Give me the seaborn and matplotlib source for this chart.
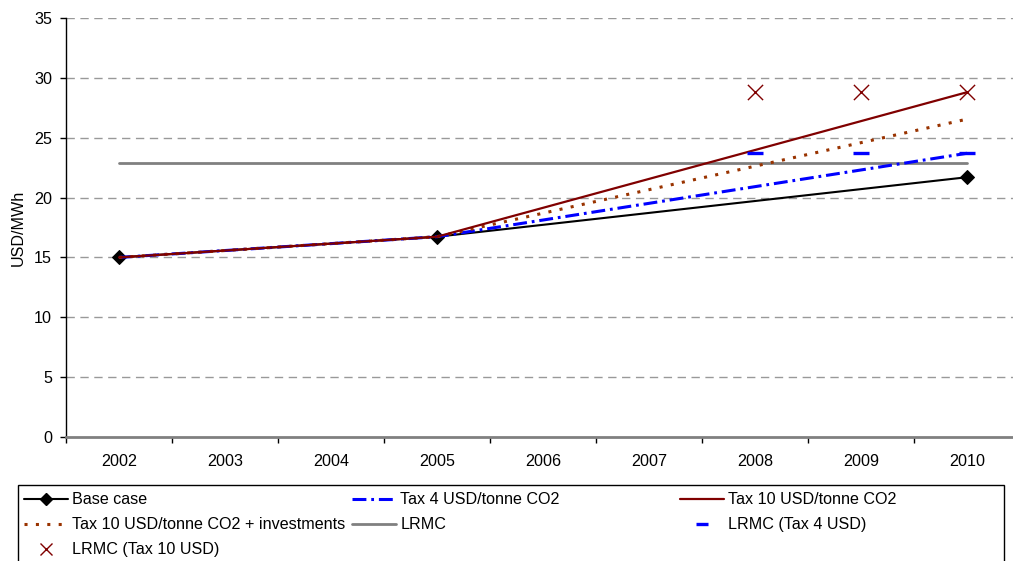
import numpy as np
import pandas as pd
import matplotlib
matplotlib.use("Agg")
import matplotlib.pyplot as plt
from matplotlib.ticker import FixedLocator, NullFormatter, FixedFormatter
from matplotlib.lines import Line2D
from matplotlib.patches import Rectangle
import seaborn as sns

years = ["2002", "2003", "2004", "2005", "2006", "2007", "2008", "2009", "2010"]

# scenario values (USD/MWh) at the years where the series are defined
base_years = ["2002", "2005", "2010"]
base_case = [15.0, 16.73, 21.7]

tax_years = ["2002", "2005", "2010"]
tax4 = [15.0, 16.73, 23.7]
tax10 = [15.0, 16.73, 28.8]
tax10_inv = [15.0, 16.73, 26.55]

lrmc_years = ["2002", "2010"]
lrmc = [22.92, 22.92]

lrmc_tax_years = ["2008", "2009", "2010"]
lrmc_tax4 = [23.7, 23.7, 23.7]
lrmc_tax10 = [28.8, 28.8, 28.8]

sns.set_theme(style="white")
plt.rcParams["font.family"] = ["Liberation Sans", "DejaVu Sans"]
plt.rcParams["lines.scale_dashes"] = False

FS = 11.6
W, H = 1013, 561
pos = {y: i for i, y in enumerate(years)}

DASHDOT = (0, (10, 3.5, 2, 3.5))
DOTTED = (0, (2.2, 6))


def frame(yrs, vals):
    return pd.DataFrame({"x": [pos[y] for y in yrs], "v": vals})


fig = plt.figure(figsize=(W / 100, H / 100), dpi=100)
ax = fig.add_axes([66 / W, (H - 437) / H, 954 / W, 419 / H])

# dashed horizontal gridlines
for g in range(5, 40, 5):
    ax.axhline(g, color="#999999", lw=1.0, ls=(0, (6, 4)), zorder=0)

sns.lineplot(data=frame(lrmc_years, lrmc), x="x", y="v", ax=ax, color="#808080",
             lw=2.0, zorder=2)
sns.lineplot(data=frame(base_years, base_case), x="x", y="v", ax=ax, color="black",
             lw=1.5, marker="D", markersize=7.5, markeredgecolor="black", zorder=3)
sns.lineplot(data=frame(tax_years, tax4), x="x", y="v", ax=ax, color="#0000FF",
             lw=2.2, ls=DASHDOT, zorder=3)
sns.lineplot(data=frame(tax_years, tax10_inv), x="x", y="v", ax=ax, color="#993300",
             lw=2.2, ls=DOTTED, zorder=3)
sns.lineplot(data=frame(tax_years, tax10), x="x", y="v", ax=ax, color="#800000",
             lw=1.6, zorder=4)
sns.scatterplot(data=frame(lrmc_tax_years, lrmc_tax4), x="x", y="v", ax=ax,
                marker="_", s=135, color="#0000FF", linewidth=2.4, zorder=5)
sns.scatterplot(data=frame(lrmc_tax_years, lrmc_tax10), x="x", y="v", ax=ax,
                marker="x", s=120, color="#800000", linewidth=1.0, zorder=5)

ax.set_xlim(-0.5, len(years) - 0.5)
ax.set_ylim(0, 35)
ax.set_yticks(range(0, 40, 5))
ax.xaxis.set_major_locator(FixedLocator(np.arange(-0.5, len(years), 1.0)))
ax.xaxis.set_major_formatter(NullFormatter())
ax.xaxis.set_minor_locator(FixedLocator(np.arange(len(years))))
ax.xaxis.set_minor_formatter(FixedFormatter(years))
ax.tick_params(axis="x", which="major", direction="out", length=4, width=1,
               color="black", bottom=True)
ax.tick_params(axis="x", which="minor", length=0, pad=12, labelsize=FS,
               labelcolor="black")
ax.tick_params(axis="y", direction="out", length=4.5, width=1, color="black",
               left=True, labelsize=FS, labelcolor="black", pad=5.5)
ax.set_xlabel("")
ax.set_ylabel("USD/MWh", fontsize=FS, color="black", labelpad=6)

for s in ["top", "right"]:
    ax.spines[s].set_visible(False)
ax.spines["left"].set_color("black")
ax.spines["left"].set_linewidth(1.0)
ax.spines["bottom"].set_color("#808080")
ax.spines["bottom"].set_linewidth(2.0)

# legend: three columns inside one rectangular frame
handles = {
    "Base case": Line2D([], [], color="black", lw=1.5, marker="D", markersize=6),
    "Tax 4 USD/tonne CO2": Line2D([], [], color="#0000FF", lw=2.2, ls=DASHDOT),
    "Tax 10 USD/tonne CO2": Line2D([], [], color="#800000", lw=1.6),
    "Tax 10 USD/tonne CO2 + investments": Line2D([], [], color="#993300", lw=2.2,
                                                  ls=DOTTED),
    "LRMC": Line2D([], [], color="#808080", lw=2.0),
    "LRMC (Tax 4 USD)": Line2D([], [], color="#0000FF", marker="_", markersize=8,
                               markeredgewidth=2.4, ls="none"),
    "LRMC (Tax 10 USD)": Line2D([], [], color="#800000", marker="x", markersize=8.5,
                                markeredgewidth=1.0, ls="none"),
}
columns = [
    (24, ["Base case", "Tax 10 USD/tonne CO2 + investments", "LRMC (Tax 10 USD)"]),
    (352, ["Tax 4 USD/tonne CO2", "LRMC"]),
    (680, ["Tax 10 USD/tonne CO2", "LRMC (Tax 4 USD)"]),
]
for x0, labels in columns:
    leg = fig.legend([handles[k] for k in labels], labels, loc="upper left",
                     bbox_to_anchor=(x0 / W, 1 - 492.5 / H), fontsize=FS,
                     frameon=False, handlelength=2.75, handletextpad=0.25,
                     labelspacing=0.62, borderpad=0, borderaxespad=0)
    for t in leg.get_texts():
        t.set_color("black")

fig.patches.append(Rectangle((18 / W, -0.05), (1004 - 18) / W, 0.05 + 1 - 485 / H,
                             transform=fig.transFigure, fill=False,
                             edgecolor="black", lw=1.0))

fig.savefig("out.png", dpi=100)
